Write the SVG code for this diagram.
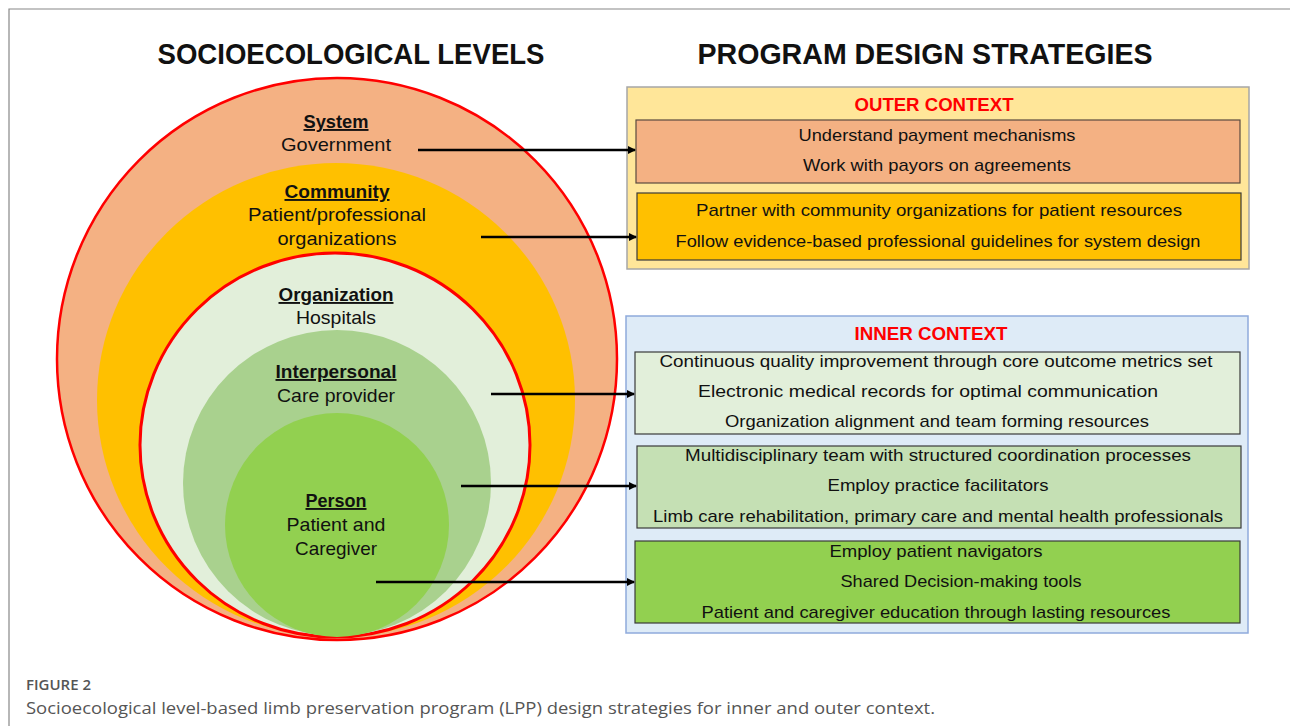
<svg xmlns="http://www.w3.org/2000/svg" width="1290" height="726" viewBox="0 0 1290 726">
<defs>
<marker id="ah" markerWidth="8" markerHeight="8" refX="7" refY="4" orient="auto" markerUnits="userSpaceOnUse">
<path d="M0,0 L8,4 L0,8 z" fill="#000"/>
</marker>
<style>
.t{font-family:"Liberation Sans",Arial,sans-serif;fill:#111;text-anchor:middle}
.h{font-size:30px;font-weight:bold}
.lv{font-size:19px}
.lb{font-size:19px;font-weight:bold;text-decoration:underline}
.bx{font-size:17px}
.ctx{font-size:19px;font-weight:bold;fill:#FF0000}
.cap{font-family:"Open Sans",sans-serif;fill:#555}
.arr{stroke:#000;stroke-width:2.5;fill:none;marker-end:url(#ah)}
</style>
</defs>
<rect x="0" y="0" width="1290" height="726" fill="#fff"/>
<path d="M9,726 L9,9 L1290,9" fill="none" stroke="#888" stroke-width="1.2"/>

<text class="t h" x="351" y="64" textLength="387" lengthAdjust="spacingAndGlyphs">SOCIOECOLOGICAL LEVELS</text>
<text class="t h" x="925" y="64" textLength="455" lengthAdjust="spacingAndGlyphs">PROGRAM DESIGN STRATEGIES</text>

<g id="system"><ellipse cx="337" cy="359" rx="280" ry="281" fill="#F4B183" stroke="#FF0000" stroke-width="2.5"/></g>
<g id="community"><ellipse cx="336" cy="400" rx="239" ry="237" fill="#FFC000"/></g>
<g id="organization"><ellipse cx="335" cy="445" rx="195" ry="192" fill="#E2EFDA" stroke="#FF0000" stroke-width="3"/></g>
<g id="interpersonal"><ellipse cx="337" cy="483" rx="154" ry="153" fill="#A9D18E"/></g>
<g id="person"><ellipse cx="337" cy="525" rx="112" ry="112" fill="#92D050"/></g>

<g id="level-labels">
<text class="t lb" x="336" y="128" textLength="65" lengthAdjust="spacingAndGlyphs">System</text>
<text class="t lv" x="336" y="151" textLength="110" lengthAdjust="spacingAndGlyphs">Government</text>
<text class="t lb" x="337" y="198" textLength="105" lengthAdjust="spacingAndGlyphs">Community</text>
<text class="t lv" x="337" y="221" textLength="178" lengthAdjust="spacingAndGlyphs">Patient/professional</text>
<text class="t lv" x="337" y="245" textLength="119" lengthAdjust="spacingAndGlyphs">organizations</text>
<text class="t lb" x="336" y="301" textLength="115" lengthAdjust="spacingAndGlyphs">Organization</text>
<text class="t lv" x="336" y="324" textLength="80" lengthAdjust="spacingAndGlyphs">Hospitals</text>
<text class="t lb" x="336" y="378" textLength="121" lengthAdjust="spacingAndGlyphs">Interpersonal</text>
<text class="t lv" x="336" y="402" textLength="118" lengthAdjust="spacingAndGlyphs">Care provider</text>
<text class="t lb" x="336" y="507" textLength="61" lengthAdjust="spacingAndGlyphs">Person</text>
<text class="t lv" x="336" y="531" textLength="99" lengthAdjust="spacingAndGlyphs">Patient and</text>
<text class="t lv" x="336" y="555" textLength="82" lengthAdjust="spacingAndGlyphs">Caregiver</text>
</g>

<g id="outer-context">
<rect x="627" y="87" width="622" height="182" fill="#FFE699" stroke="#A6A6A6" stroke-width="1.5"/>
<text class="t ctx" x="934" y="111" textLength="159" lengthAdjust="spacingAndGlyphs">OUTER CONTEXT</text>
</g>
<g id="box-system">
<rect x="636" y="120" width="604" height="63" fill="#F4B183" stroke="#5A4A40" stroke-width="1.2"/>
<text class="t bx" x="937" y="141" textLength="277" lengthAdjust="spacingAndGlyphs">Understand payment mechanisms</text>
<text class="t bx" x="937" y="171" textLength="268" lengthAdjust="spacingAndGlyphs">Work with payors on agreements</text>
</g>
<g id="box-community">
<rect x="637" y="193" width="604" height="67" fill="#FFC000" stroke="#3A3A3A" stroke-width="1.2"/>
<text class="t bx" x="939" y="216" textLength="486" lengthAdjust="spacingAndGlyphs">Partner with community organizations for patient resources</text>
<text class="t bx" x="938" y="247" textLength="525" lengthAdjust="spacingAndGlyphs">Follow evidence-based  professional  guidelines for system design</text>
</g>

<g id="inner-context">
<rect x="626" y="316" width="622" height="317" fill="#DEEBF7" stroke="#8FAADC" stroke-width="1.5"/>
<text class="t ctx" x="931" y="340" textLength="153" lengthAdjust="spacingAndGlyphs">INNER CONTEXT</text>
</g>
<g id="box-organization">
<rect x="635" y="352" width="605" height="82" fill="#E2EFDA" stroke="#3A3A3A" stroke-width="1.2"/>
<text class="t bx" x="936" y="367" textLength="553" lengthAdjust="spacingAndGlyphs">Continuous quality improvement through core outcome metrics set</text>
<text class="t bx" x="928" y="397" textLength="460" lengthAdjust="spacingAndGlyphs">Electronic medical records for optimal communication</text>
<text class="t bx" x="937" y="427" textLength="424" lengthAdjust="spacingAndGlyphs">Organization alignment and team forming resources</text>
</g>
<g id="box-interpersonal">
<rect x="637" y="446" width="604" height="82" fill="#C5E0B4" stroke="#3A3A3A" stroke-width="1.2"/>
<text class="t bx" x="938" y="461" textLength="506" lengthAdjust="spacingAndGlyphs">Multidisciplinary team with structured coordination processes</text>
<text class="t bx" x="938" y="491" textLength="221" lengthAdjust="spacingAndGlyphs">Employ practice facilitators</text>
<text class="t bx" x="938" y="522" textLength="570" lengthAdjust="spacingAndGlyphs">Limb care rehabilitation, primary care and mental health professionals</text>
</g>
<g id="box-person">
<rect x="635" y="541" width="605" height="82" fill="#92D050" stroke="#3A3A3A" stroke-width="1.2"/>
<text class="t bx" x="936" y="557" textLength="213" lengthAdjust="spacingAndGlyphs">Employ patient navigators</text>
<text class="t bx" x="961" y="587" textLength="241" lengthAdjust="spacingAndGlyphs">Shared Decision-making tools</text>
<text class="t bx" x="936" y="618" textLength="469" lengthAdjust="spacingAndGlyphs">Patient and caregiver education through lasting resources</text>
</g>

<g id="connectors">
<line class="arr" x1="418" y1="150" x2="635" y2="150"/>
<line class="arr" x1="481" y1="237" x2="636" y2="237"/>
<line class="arr" x1="491" y1="394" x2="634" y2="394"/>
<line class="arr" x1="461" y1="486" x2="636" y2="486"/>
<line class="arr" x1="376" y1="582" x2="634" y2="582"/>
</g>

<g id="caption">
<text class="cap" x="26" y="690" font-size="14" font-weight="600" fill="#666" textLength="65" lengthAdjust="spacingAndGlyphs">FIGURE 2</text>
<text class="cap" x="26" y="714" font-size="17" textLength="909" lengthAdjust="spacingAndGlyphs">Socioecological level-based limb preservation program (LPP) design strategies for inner and outer context.</text>
</g>
</svg>
